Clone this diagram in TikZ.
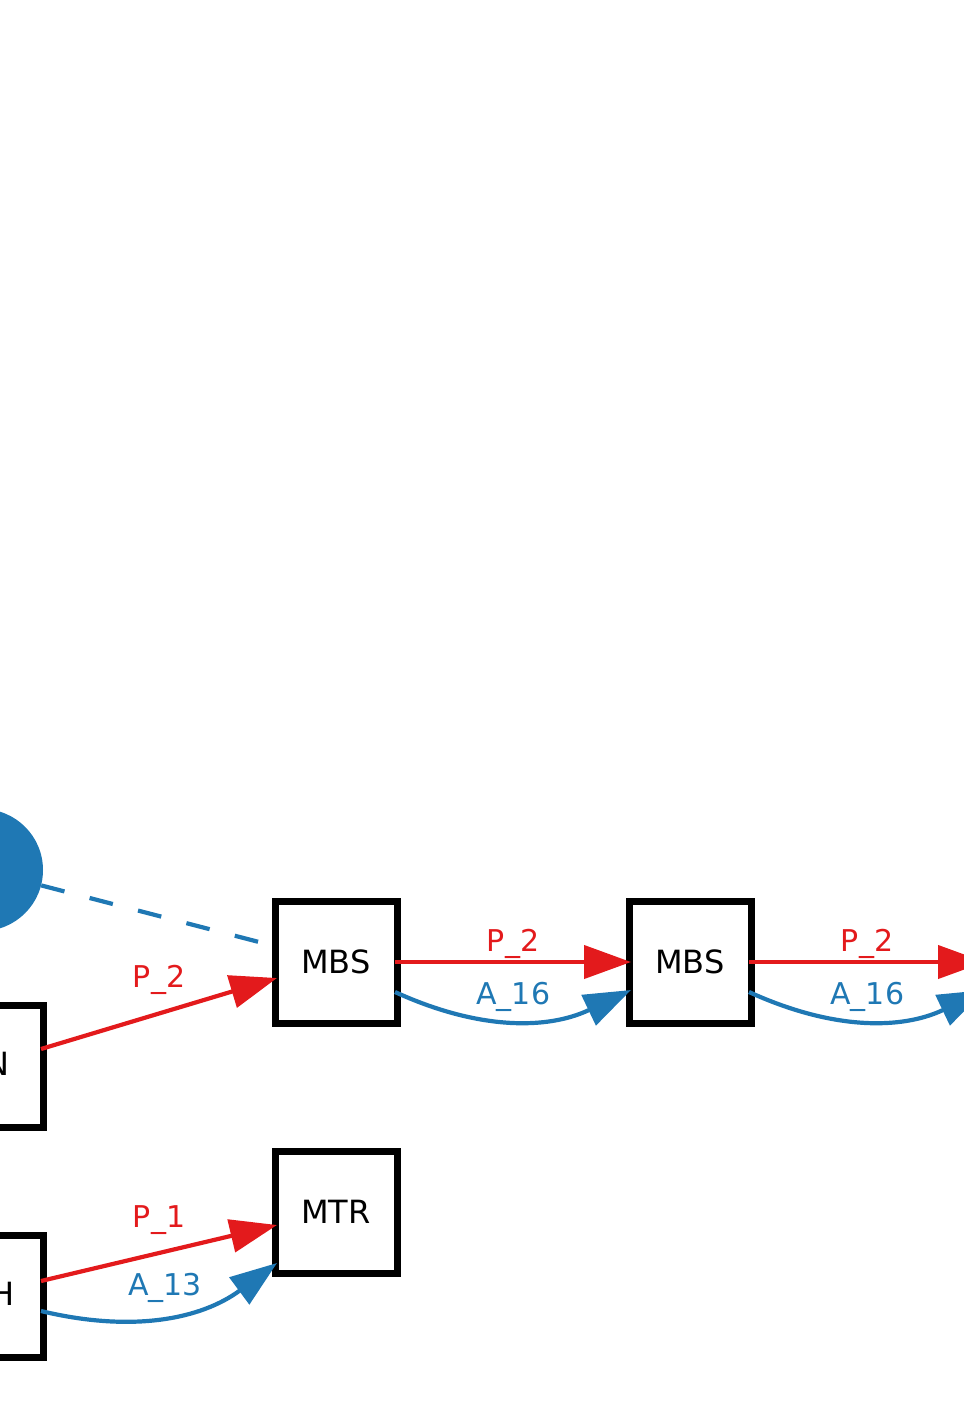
\documentclass[tikz,border=0pt]{standalone}
\usepackage{fontspec}
\setmainfont{DejaVu Sans}
\usetikzlibrary{arrows.meta,calc}
\definecolor{edgered}{HTML}{E31A1C}
\definecolor{edgeblue}{HTML}{1F78B4}
\begin{document}
\begin{tikzpicture}[x=1pt,y=-1pt]

\tikzset{>={Triangle[length=47pt,width=33pt]}}
\tikzset{box/.style={draw,line width=7pt,minimum size=122pt,inner sep=0pt,
    outer sep=-2pt,font=\fontsize{32}{38}\selectfont},
  pline/.style={->,edgered,line width=4.2pt},
  aline/.style={->,edgeblue,line width=4.2pt},
  elabel/.style={inner sep=0pt,font=\fontsize{30}{36}\selectfont}}
\def\colA{-18}
\def\colB{336}
\def\colC{690}
\def\colD{1044}
\def\rowA{962}
\def\rowB{1066}
\def\rowC{1212}
\def\rowD{1296}

\useasboundingbox (0,0) rectangle (964,1409);

\node[circle,fill=edgeblue,minimum size=122pt,inner sep=0pt] (hub) at (\colA,870) {};

\node[box] (mbsA) at (\colB,\rowA) {MBS};
\node[box] (mbsB) at (\colC,\rowA) {MBS};
\node[box] (mbsC) at (\colD,\rowA) {};
\node[box] (boxN) at (\colA,\rowB) {};
\node[box] (mtr) at (\colB,\rowC) {MTR};
\node[box] (boxH) at (\colA,\rowD) {};

\node[anchor=east,inner sep=0pt,font=\fontsize{32}{38}\selectfont] (lblN) at (10,1064) {N};
\node[anchor=east,inner sep=0pt,font=\fontsize{32}{38}\selectfont] (lblH) at (15,1294) {H};

\draw[edgeblue,line width=4.2pt,dash pattern=on 24pt off 26pt,shorten >=16pt] (hub) -- (mbsA);

\draw[pline] ($(boxN.east)+(0,-17)$) -- node[elabel,midway,yshift=33.5pt] {P\_2} ($(mbsA.west)+(0,16)$);

\draw[pline] (mbsA.east) -- node[elabel,midway,yshift=18.5pt] {P\_2} (mbsB.west);
\draw[aline] ($(mbsA.east)+(0,30)$) to[bend right=25]
    node[elabel,midway,yshift=23.5pt] {A\_16} ($(mbsB.west)+(0,28)$);

\draw[pline] (mbsB.east) -- node[elabel,midway,yshift=18.5pt] {P\_2} (mbsC.west);
\draw[aline] ($(mbsB.east)+(0,30)$) to[bend right=25]
    node[elabel,midway,yshift=23.5pt] {A\_16} ($(mbsC.west)+(0,28)$);

\draw[pline] ($(boxH.east)+(0,-15)$) -- node[elabel,midway,yshift=32.5pt] {P\_1} ($(mtr.west)+(0,13)$);
\draw[aline] ($(boxH.east)+(0,15)$) to[bend right=25]
    node[elabel,midway,yshift=28.5pt] {A\_13} ($(mtr.west)+(0,51)$);

\end{tikzpicture}
\end{document}
